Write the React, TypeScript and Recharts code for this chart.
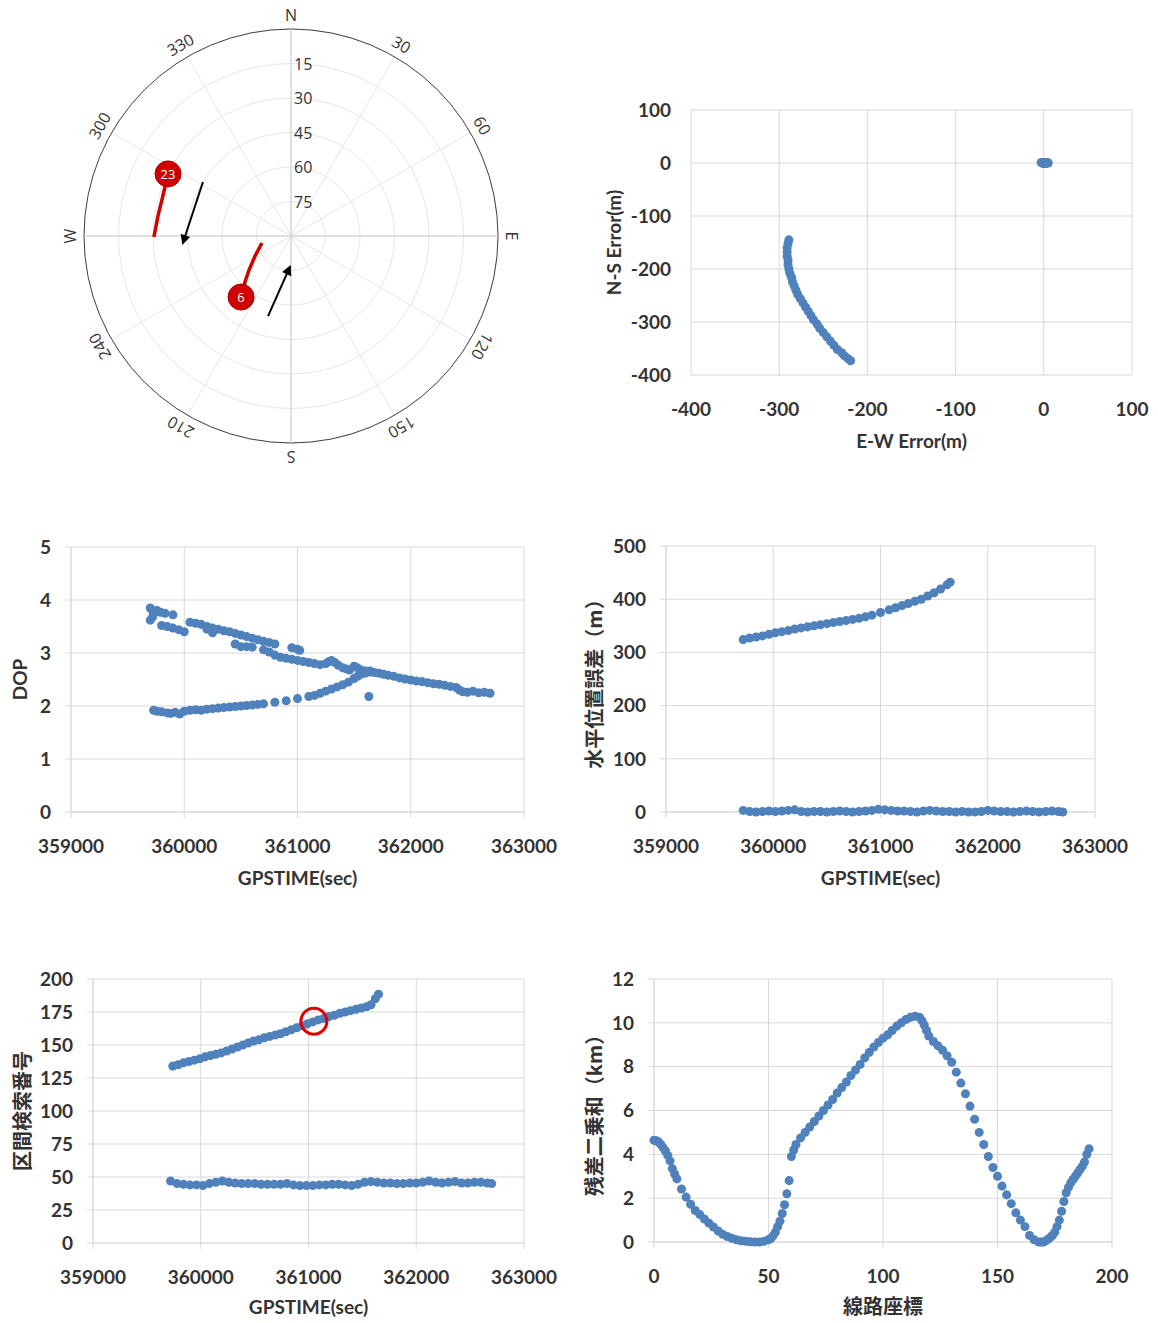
import React from 'react'
import {
  ScatterChart,
  Scatter,
  XAxis,
  YAxis,
  ZAxis,
  CartesianGrid,
  ReferenceLine,
  ReferenceDot,
  RadarChart,
  Radar,
  PolarGrid,
  PolarAngleAxis,
  PolarRadiusAxis,
} from 'recharts'

// ---- sky plot ----
const azimuthLabels = ['N', '30', '60', 'E', '120', '150', 'S', '210', '240', 'W', '300', '330']
const azimuthDeg = [0, 30, 60, 90, 120, 150, 180, 210, 240, 270, 300, 330]
const zenithRadius = [0, 15, 30, 45, 60, 75, 90] // 90 - elevation

const sat23Az = [296.8, 287.8, 278.6, 269.6]
const sat23El = [30.1, 31.6, 31.5, 30.4]
const sat6Az = [219.3, 225, 231.0, 240.9, 256.4]
const sat6El = [55.7, 61.7, 66.5, 72.1, 77.0]
const satPrn = [23, 6]
const satMarkAz = [296.8, 219.3]
const satMarkEl = [30.1, 55.7]
const arrowAz = [[301.5, 266.3], [196.0, 182.0]]
const arrowEl = [[45.1, 42.9], [53.8, 76.6]]

// ---- E-W / N-S error ----
const ewCurve = [-289, -290, -291, -291, -291, -290, -290, -289, -288, -286, -285, -283, -281, -279, -276, -273, -270, -267, -264, -261, -257, -254, -250, -246, -242, -238, -234, -229, -226, -222, -219]
const nsCurve = [-145, -152, -160, -168, -176, -184, -192, -200, -208, -216, -224, -232, -240, -248, -256, -264, -272, -280, -288, -296, -304, -312, -320, -328, -336, -344, -352, -358, -364, -369, -373]
const ewCluster = [-3, -1, 0, 1, 2, 3, 4, 5, 2, 0]
const nsCluster = [1, -1, 0, 1, -1, 0, 1, 0, -1, 0]

// ---- DOP ----
const dopTopTime = [359700, 359720, 359740, 359760, 359790, 359830, 359900, 360050, 360100, 360150, 360200, 360250, 360300, 360350, 360400, 360450, 360500, 360550, 360600, 360650, 360700, 360750, 360800, 360950, 361000, 361020]
const dopTop = [3.85, 3.8, 3.78, 3.8, 3.77, 3.75, 3.72, 3.58, 3.56, 3.54, 3.5, 3.47, 3.45, 3.42, 3.4, 3.37, 3.34, 3.31, 3.28, 3.25, 3.22, 3.2, 3.17, 3.1, 3.07, 3.05]
const dopMidTime = [359700, 359720, 359800, 359850, 359900, 359950, 360000, 360200, 360250, 360450, 360500, 360550, 360600, 360700, 360750, 360800, 360850, 360900, 360950, 361000, 361050, 361100, 361150, 361200, 361250, 361280, 361300, 361330, 361360, 361400, 361430, 361460, 361500, 361530, 361560, 361600, 361640, 361680, 361720, 361760, 361800, 361850, 361900, 361950, 362000, 362050, 362100, 362150, 362200, 362250, 362300, 362350, 362400, 362430, 362460, 362500, 362550, 362600, 362650, 362700]
const dopMid = [3.62, 3.68, 3.52, 3.5, 3.47, 3.44, 3.4, 3.45, 3.38, 3.17, 3.12, 3.12, 3.11, 3.06, 3.02, 2.96, 2.92, 2.9, 2.88, 2.86, 2.84, 2.82, 2.8, 2.78, 2.8, 2.84, 2.86, 2.82, 2.77, 2.72, 2.7, 2.68, 2.75, 2.72, 2.68, 2.66, 2.64, 2.63, 2.62, 2.6, 2.58, 2.56, 2.53, 2.51, 2.49, 2.47, 2.46, 2.44, 2.42, 2.41, 2.39, 2.37, 2.35, 2.3, 2.27, 2.26, 2.28, 2.25, 2.26, 2.24]
const dopLowTime = [359730, 359760, 359800, 359850, 359880, 359920, 359960, 360000, 360050, 360100, 360150, 360200, 360250, 360300, 360350, 360400, 360450, 360500, 360550, 360600, 360650, 360700, 360800, 360900, 361000, 361100, 361150, 361200, 361250, 361300, 361350, 361400, 361450, 361500, 361530, 361560, 361600, 361640, 361630]
const dopLow = [1.92, 1.9, 1.89, 1.87, 1.86, 1.88, 1.85, 1.9, 1.92, 1.93, 1.92, 1.94, 1.95, 1.96, 1.97, 1.98, 1.99, 2.0, 2.01, 2.02, 2.03, 2.04, 2.07, 2.1, 2.14, 2.18, 2.2, 2.24, 2.28, 2.32, 2.36, 2.4, 2.45, 2.52, 2.56, 2.6, 2.62, 2.66, 2.18]

// ---- horizontal error / section number ----
const wrongTime = [359720, 359780, 359840, 359900, 359960, 360020, 360080, 360140, 360200, 360260, 360320, 360380, 360440, 360500, 360560, 360620, 360680, 360740, 360800, 360860, 360920, 361000, 361080, 361140, 361200, 361260, 361320, 361380, 361440, 361500, 361560, 361620, 361650]
const wrongHorizErr = [324, 327, 329, 331, 334, 337, 339, 341, 344, 346, 348, 350, 352, 354, 356, 358, 360, 362, 364, 367, 370, 375, 380, 384, 388, 392, 396, 400, 406, 412, 419, 427, 432]
const matchedTime = [359720, 359780, 359840, 359900, 359960, 360020, 360080, 360140, 360200, 360260, 360320, 360380, 360440, 360500, 360560, 360620, 360680, 360740, 360800, 360860, 360920, 360980, 361040, 361100, 361160, 361220, 361280, 361340, 361400, 361460, 361520, 361580, 361640, 361700, 361760, 361820, 361880, 361940, 362000, 362060, 362120, 362180, 362240, 362300, 362360, 362420, 362480, 362540, 362600, 362660, 362700]
const matchedHorizErr = [3, 1, 0, 1, 2, 1, 2, 3, 4, 1, 0, 1, 1, 0, 1, 2, 1, 0, 1, 2, 3, 5, 4, 3, 2, 2, 1, 0, 2, 3, 2, 1, 1, 0, 1, 0, 0, 1, 3, 2, 1, 1, 0, 1, 2, 1, 0, 1, 2, 1, 0]

const wrongSectionTime = [359740, 359790, 359840, 359890, 359940, 359990, 360040, 360090, 360140, 360190, 360240, 360290, 360340, 360390, 360440, 360490, 360540, 360590, 360640, 360690, 360740, 360790, 360840, 360890, 360940, 360990, 361040, 361090, 361140, 361190, 361240, 361290, 361340, 361390, 361440, 361490, 361540, 361580, 361620, 361650]
const wrongSection = [134, 135, 136.5, 137.5, 138.5, 139.5, 141, 142, 143, 144, 145.5, 147, 148.5, 150, 151.5, 153, 154, 155.5, 156.5, 157.5, 158.5, 160, 161.5, 163, 164.5, 166, 167.5, 169, 170, 171.5, 172.5, 174, 175, 176, 177, 178, 179, 180.5, 185, 188.5]
const matchedSection = [47, 45, 44.5, 44, 44, 43.5, 45, 46, 47, 46, 45.5, 45, 45, 45, 44.5, 44.5, 44.5, 44.5, 45, 44, 43.5, 43.5, 43.5, 44, 44, 44.5, 44.5, 44, 43.5, 44.5, 46, 46.5, 46, 45.5, 45.5, 45, 45, 45.5, 45.5, 46, 47, 46, 45.5, 46, 46.5, 45.5, 45.5, 46, 46, 45.5, 45]
const circledSection = { time: 361050, value: 168 }

// ---- residual vs track coordinate ----
const trackPos = [0, 1, 2, 3, 4, 5, 6, 7, 8, 9, 10, 12, 14, 16, 18, 20, 22, 24, 26, 28, 30, 32, 34, 36, 38, 40, 42, 44, 46, 48, 50, 51, 52, 53, 54, 55, 56, 57, 58, 59, 60, 61, 62, 64, 66, 68, 70, 72, 74, 76, 78, 80, 82, 84, 86, 88, 90, 92, 94, 96, 98, 100, 102, 104, 106, 108, 110, 112, 114, 116, 117, 118, 119, 120, 122, 124, 126, 128, 130, 132, 134, 136, 138, 140, 142, 144, 146, 148, 150, 152, 154, 156, 158, 160, 162, 164, 166, 168, 169, 170, 171, 172, 173, 174, 175, 176, 177, 178, 179, 180, 181, 182, 183, 184, 185, 186, 187, 188, 189, 190]
const residualKm = [4.64, 4.62, 4.56, 4.45, 4.3, 4.15, 3.95, 3.7, 3.35, 3.1, 2.88, 2.42, 2.05, 1.72, 1.44, 1.25, 1.05, 0.86, 0.68, 0.5, 0.35, 0.25, 0.17, 0.1, 0.06, 0.03, 0.01, 0, 0, 0.03, 0.1, 0.16, 0.28, 0.45, 0.7, 0.95, 1.3, 1.7, 2.2, 2.8, 3.9, 4.2, 4.45, 4.75, 5.0, 5.25, 5.5, 5.75, 6.0, 6.25, 6.5, 6.8, 7.05, 7.3, 7.6, 7.85, 8.1, 8.4, 8.65, 8.9, 9.1, 9.3, 9.45, 9.65, 9.85, 10.0, 10.15, 10.25, 10.3, 10.25, 10.1, 9.9, 9.65, 9.4, 9.15, 8.95, 8.75, 8.5, 8.2, 7.75, 7.25, 6.76, 6.2, 5.6, 5.0, 4.45, 3.9, 3.4, 3.0, 2.55, 2.15, 1.75, 1.33, 1.0, 0.7, 0.3, 0.1, 0, 0, 0, 0.05, 0.12, 0.2, 0.3, 0.45, 0.7, 1.0, 1.4, 1.85, 2.25, 2.5, 2.7, 2.85, 3.0, 3.15, 3.3, 3.45, 3.65, 4.0, 4.25]

const timeTicks = [359000, 360000, 361000, 362000, 363000]

const FONT = 'Lato, "Noto Sans CJK JP", sans-serif'
const CJK_FONT = '"Noto Sans CJK JP", sans-serif'
const SKY_FONT = '"Open Sans", sans-serif'
const BLUE = '#4f81bd'
const RED = '#d40000'
const GRID = '#d9d9d9'

const tickStyle = { fill: '#333', fontSize: 19, fontWeight: 700, fontFamily: FONT }

const pts = (xs: number[], ys: number[]) => xs.map((x, i) => ({ x, y: ys[i] }))

const toSky = (az: number, el: number) => {
  const r = 90 - el
  const a = (az * Math.PI) / 180
  return { x: r * Math.sin(a), y: r * Math.cos(a) }
}

const place = (x: number, y: number, w: number, h: number): React.CSSProperties => ({
  position: 'absolute',
  left: x - 8,
  top: y - 8,
  width: w,
  height: h,
})

function AzimuthTick(props: any) {
  const { x, y, payload } = props
  const az = azimuthDeg[azimuthLabels.indexOf(payload.value)]
  return (
    <text
      x={x}
      y={y}
      textAnchor="middle"
      dominantBaseline="central"
      transform={`rotate(${az} ${x} ${y})`}
      fill="#333"
      fontSize={16}
      fontFamily={SKY_FONT}
    >
      {payload.value}
    </text>
  )
}

function ElevationTick(props: any) {
  const { x, y, payload } = props
  const el = 90 - payload.value
  if (el <= 0 || el >= 90) return <g />
  return (
    <text x={x + 3} y={y} dominantBaseline="central" fill="#333" fontSize={16} fontFamily={SKY_FONT}>
      {el}
    </text>
  )
}

const NoDot = () => <g />

function SatMarker(props: any) {
  const { cx, cy, payload } = props
  return (
    <g>
      <circle cx={cx} cy={cy} r={13} fill="#cf0000" stroke="#a80000" strokeWidth={1} />
      <text x={cx} y={cy} textAnchor="middle" dominantBaseline="central" fill="#fff" fontSize={13} fontFamily={SKY_FONT}>
        {payload.prn}
      </text>
    </g>
  )
}

function SkyPlot() {
  const frame = azimuthLabels.map((label) => ({ label, r: 0 }))
  const track23 = sat23Az.map((az, i) => toSky(az, sat23El[i]))
  const track6 = sat6Az.map((az, i) => toSky(az, sat6El[i]))
  const marks = satPrn.map((prn, i) => ({ ...toSky(satMarkAz[i], satMarkEl[i]), prn }))
  const arrows = arrowAz.map((azs, i) => azs.map((az, j) => toSky(az, arrowEl[i][j])))

  return (
    <>
      <div style={place(60, 0, 470, 470)}>
        <RadarChart
          width={470}
          height={470}
          data={frame}
          cx={231}
          cy={236}
          outerRadius={207}
          margin={{ top: 0, right: 0, bottom: 0, left: 0 }}
        >
          <PolarGrid gridType="circle" stroke="#e6e6e6" />
          <PolarAngleAxis
            dataKey="label"
            axisLineType="circle"
            axisLine={{ stroke: '#444' }}
            tickLine={false}
            tickSize={14}
            tick={(p: any) => <AzimuthTick {...p} />}
          />
          <PolarRadiusAxis
            angle={90}
            type="number"
            domain={[0, 90]}
            ticks={zenithRadius}
            axisLine={false}
            tickLine={false}
            tick={(p: any) => <ElevationTick {...p} />}
          />
          <Radar dataKey="r" stroke="none" fill="none" dot={false} isAnimationActive={false} />
        </RadarChart>
      </div>
      <div style={place(60, 0, 470, 470)}>
        <ScatterChart width={470} height={470} margin={{ top: 29, right: 32, bottom: 27, left: 24 }}>
          <XAxis type="number" dataKey="x" domain={[-90, 90]} hide height={0} />
          <YAxis type="number" dataKey="y" domain={[-90, 90]} hide width={0} />
          <ReferenceLine x={0} stroke="#cccccc" />
          <ReferenceLine y={0} stroke="#cccccc" />
          <Scatter data={track23} line={{ stroke: RED, strokeWidth: 3.5 }} shape={<NoDot />} isAnimationActive={false} />
          <Scatter data={track6} line={{ stroke: RED, strokeWidth: 3.5 }} shape={<NoDot />} isAnimationActive={false} />
          {arrows.map((a, i) => (
            <Scatter
              key={i}
              data={a}
              line={{ stroke: '#000', strokeWidth: 2, markerEnd: 'url(#skyArrow)' }}
              shape={<NoDot />}
              isAnimationActive={false}
            />
          ))}
          <Scatter data={marks} shape={(p: any) => <SatMarker {...p} />} isAnimationActive={false} />
        </ScatterChart>
      </div>
    </>
  )
}

interface Series {
  data: Array<{ x: number; y: number }>
  line?: boolean
}

interface DotPanelProps {
  left: number
  top: number
  width: number
  height: number
  margin: { top: number; right: number; bottom: number; left: number }
  yAxisWidth: number
  xAxisHeight: number
  xDomain: [number, number]
  xTicks: number[]
  yDomain: [number, number]
  yTicks: number[]
  xTitle: string
  yTitle: string
  yTitleOffset: number
  xTitleFont?: string
  yTitleFont?: string
  tickLines?: boolean
  series: Series[]
  children?: React.ReactNode
}

function DotPanel({
  left,
  top,
  width,
  height,
  margin,
  yAxisWidth,
  xAxisHeight,
  xDomain,
  xTicks,
  yDomain,
  yTicks,
  xTitle,
  yTitle,
  yTitleOffset,
  xTitleFont = FONT,
  yTitleFont = FONT,
  tickLines = true,
  series,
  children,
}: DotPanelProps) {
  const titleStyle = (font: string) => ({
    fill: '#333',
    fontSize: font === CJK_FONT ? 20 : 19,
    fontWeight: 700,
    fontFamily: font,
    textAnchor: 'middle' as const,
  })
  return (
    <div style={place(left, top, width, height)}>
      <ScatterChart width={width} height={height} margin={margin}>
        <CartesianGrid stroke={GRID} />
        <XAxis
          type="number"
          dataKey="x"
          domain={xDomain}
          ticks={xTicks}
          interval={0}
          height={xAxisHeight}
          tick={tickStyle}
          tickSize={6}
          tickMargin={22}
          axisLine={tickLines ? { stroke: GRID } : false}
          tickLine={tickLines ? { stroke: GRID } : false}
          label={{ value: xTitle, position: 'insideBottom', offset: 0, style: titleStyle(xTitleFont) }}
        />
        <YAxis
          type="number"
          dataKey="y"
          domain={yDomain}
          ticks={yTicks}
          interval={0}
          width={yAxisWidth}
          tick={tickStyle}
          tickSize={6}
          tickMargin={14}
          axisLine={tickLines ? { stroke: GRID } : false}
          tickLine={tickLines ? { stroke: GRID } : false}
          label={{ value: yTitle, angle: -90, position: 'insideLeft', offset: yTitleOffset, style: titleStyle(yTitleFont) }}
        />
        <ZAxis range={[10, 10]} />
        {series.map((s, i) => (
          <Scatter
            key={i}
            data={s.data}
            fill={BLUE}
            line={s.line ? { stroke: BLUE, strokeWidth: 2.5 } : false}
            isAnimationActive={false}
          />
        ))}
        {children}
      </ScatterChart>
    </div>
  )
}

export default function App() {
  return (
    <div style={{ position: 'relative', width: 1142, height: 1315, background: '#fff' }}>
      <svg width={0} height={0} style={{ position: 'absolute' }}>
        <defs>
          <marker id="skyArrow" viewBox="0 0 10 10" refX="8" refY="5" markerWidth="6" markerHeight="5" orient="auto">
            <path d="M0,0 L10,5 L0,10 z" fill="#000" />
          </marker>
        </defs>
      </svg>

      <SkyPlot />

      <DotPanel
        left={580}
        top={90}
        width={570}
        height={380}
        margin={{ top: 20, right: 18, bottom: 22, left: 0 }}
        yAxisWidth={111}
        xAxisHeight={73}
        xDomain={[-400, 100]}
        xTicks={[-400, -300, -200, -100, 0, 100]}
        yDomain={[-400, 100]}
        yTicks={[-400, -300, -200, -100, 0, 100]}
        xTitle="E-W Error(m)"
        yTitle="N-S Error(m)"
        yTitleOffset={34}
        tickLines={false}
        series={[
          { data: pts(ewCurve, nsCurve), line: true },
          { data: pts(ewCluster, nsCluster), line: true },
        ]}
      />

      <DotPanel
        left={8}
        top={525}
        width={550}
        height={380}
        margin={{ top: 22, right: 34, bottom: 20, left: 0 }}
        yAxisWidth={63}
        xAxisHeight={73}
        xDomain={[359000, 363000]}
        xTicks={timeTicks}
        yDomain={[0, 5]}
        yTicks={[0, 1, 2, 3, 4, 5]}
        xTitle="GPSTIME(sec)"
        yTitle="DOP"
        yTitleOffset={12}
        series={[
          { data: pts(dopTopTime, dopTop) },
          { data: pts(dopMidTime, dopMid) },
          { data: pts(dopLowTime, dopLow) },
        ]}
      />

      <DotPanel
        left={580}
        top={525}
        width={560}
        height={380}
        margin={{ top: 21, right: 45, bottom: 20, left: 0 }}
        yAxisWidth={86}
        xAxisHeight={73}
        xDomain={[359000, 363000]}
        xTicks={timeTicks}
        yDomain={[0, 500]}
        yTicks={[0, 100, 200, 300, 400, 500]}
        xTitle="GPSTIME(sec)"
        yTitle="水平位置誤差（m）"
        yTitleOffset={15}
        yTitleFont={CJK_FONT}
        series={[
          { data: pts(wrongTime, wrongHorizErr) },
          { data: pts(matchedTime, matchedHorizErr), line: true },
        ]}
      />

      <DotPanel
        left={8}
        top={955}
        width={550}
        height={368}
        margin={{ top: 24, right: 34, bottom: 9, left: 0 }}
        yAxisWidth={85}
        xAxisHeight={71}
        xDomain={[359000, 363000]}
        xTicks={timeTicks}
        yDomain={[0, 200]}
        yTicks={[0, 25, 50, 75, 100, 125, 150, 175, 200]}
        xTitle="GPSTIME(sec)"
        yTitle="区間検索番号"
        yTitleOffset={15}
        yTitleFont={CJK_FONT}
        series={[
          { data: pts(wrongSectionTime, wrongSection) },
          { data: pts(matchedTime, matchedSection), line: true },
        ]}
      >
        <ReferenceDot
          x={circledSection.time}
          y={circledSection.value}
          r={13}
          fill="none"
          stroke="#e00000"
          strokeWidth={3}
        />
      </DotPanel>

      <DotPanel
        left={580}
        top={955}
        width={560}
        height={368}
        margin={{ top: 24, right: 28, bottom: 9, left: 0 }}
        yAxisWidth={74}
        xAxisHeight={72}
        xDomain={[0, 200]}
        xTicks={[0, 50, 100, 150, 200]}
        yDomain={[0, 12]}
        yTicks={[0, 2, 4, 6, 8, 10, 12]}
        xTitle="線路座標"
        yTitle="残差二乗和（km）"
        yTitleOffset={15}
        xTitleFont={CJK_FONT}
        yTitleFont={CJK_FONT}
        series={[{ data: pts(trackPos, residualKm) }]}
      />
    </div>
  )
}
